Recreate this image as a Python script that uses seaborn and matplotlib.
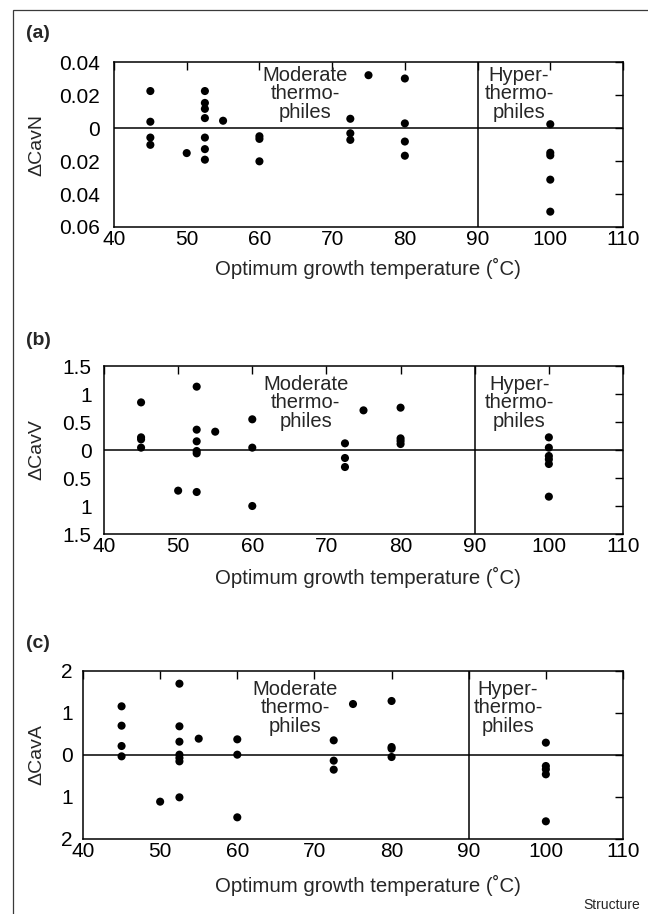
import matplotlib
matplotlib.use("Agg")
import matplotlib.pyplot as plt
from matplotlib.patches import Rectangle
import seaborn as sns
import pandas as pd

# ---------------- data ----------------
temp_a = [45, 45, 45, 45, 50, 52.5, 52.5, 52.5, 52.5, 52.5, 52.5, 52.5, 55,
          60, 60, 60, 72.5, 72.5, 72.5, 75, 80, 80, 80, 80,
          100, 100, 100, 100, 100]
cavn = [0.0224, 0.0038, -0.0058, -0.0102, -0.0152, 0.0224, 0.0152, 0.0116, 0.006,
        -0.0058, -0.0128, -0.0192, 0.0044, -0.005, -0.0066, -0.0202,
        0.0056, -0.0032, -0.0072, 0.032, 0.0300, 0.0028, -0.0082, -0.0168,
        0.0023, -0.0150, -0.0166, -0.0313, -0.0507]

temp_b = [45, 45, 45, 45, 50, 52.5, 52.5, 52.5, 52.5, 52.5, 52.5, 55,
          60, 60, 60, 72.5, 72.5, 72.5, 75, 80, 80, 80, 80,
          100, 100, 100, 100, 100, 100]
cavv = [0.85, 0.226, 0.19, 0.042, -0.726, 1.131, 0.363, 0.155, -0.018, -0.06, -0.75, 0.327,
        0.548, 0.042, -1.0, 0.119, -0.143, -0.304, 0.708, 0.756, 0.208, 0.161, 0.107,
        0.226, 0.042, -0.107, -0.167, -0.25, -0.833]

temp_c = [45, 45, 45, 45, 50, 52.5, 52.5, 52.5, 52.5, 52.5, 52.5, 52.5, 55,
          60, 60, 60, 72.5, 72.5, 72.5, 75, 80, 80, 80, 80,
          100, 100, 100, 100, 100]
cava = [1.159, 0.698, 0.214, -0.032, -1.111, 1.698, 0.683, 0.317, 0.008, -0.07, -0.151, -1.008, 0.389,
        0.373, 0.008, -1.484, 0.349, -0.135, -0.349, 1.214, 1.286, 0.19, 0.15, -0.048,
        0.294, -0.262, -0.341, -0.46, -1.579]

x_ticks = [40, 50, 60, 70, 80, 90, 100, 110]
yticks_a = [0.04, 0.02, 0, -0.02, -0.04, -0.06]
ylabels_a = ["0.04", "0.02", "0", "0.02", "0.04", "0.06"]
yticks_b = [1.5, 1, 0.5, 0, -0.5, -1, -1.5]
ylabels_b = ["1.5", "1", "0.5", "0", "0.5", "1", "1.5"]
yticks_c = [2, 1, 0, -1, -2]
ylabels_c = ["2", "1", "0", "1", "2"]

panel_letters = ["(a)", "(b)", "(c)"]
y_names = ["\u0394CavN", "\u0394CavV", "\u0394CavA"]
x_name = "Optimum growth temperature (\u02daC)"
group_names = ["Moderate\nthermo-\nphiles", "Hyper-\nthermo-\nphiles"]

# ---------------- style ----------------
sns.set_style("white")
plt.rcParams["font.family"] = ["Liberation Sans", "DejaVu Sans"]
plt.rcParams["axes.linewidth"] = 1.1

W, H = 648, 914
fig = plt.figure(figsize=(W / 100, H / 100), dpi=100)

# figure frame
fig.patches.append(Rectangle((13 / W, -0.05), 1.2, 1 - 10 / H + 0.05,
                             transform=fig.transFigure, fill=False,
                             edgecolor="#3a3a3a", linewidth=0.9))

panels = [
    dict(x=temp_a, y=cavn, ticks=yticks_a, labels=ylabels_a, lim=(-0.06, 0.04),
         box=(114, 62, 623, 227), pad=10.0, tx=(66.3, 95.7), ty=0.0207,
         lab_y=33, xl_y=268),
    dict(x=temp_b, y=cavv, ticks=yticks_b, labels=ylabels_b, lim=(-1.5, 1.5),
         box=(104, 366, 623, 534), pad=9.0, tx=(67.2, 96.0), ty=0.84,
         lab_y=341, xl_y=577),
    dict(x=temp_c, y=cava, ticks=yticks_c, labels=ylabels_c, lim=(-2, 2),
         box=(83, 671, 623, 839), pad=7.5, tx=(67.5, 95.1), ty=1.12,
         lab_y=644, xl_y=885),
]

for i, p in enumerate(panels):
    x0, y0, x1, y1 = p["box"]
    ax = fig.add_axes([x0 / W, 1 - y1 / H, (x1 - x0) / W, (y1 - y0) / H])
    df = pd.DataFrame({"t": p["x"], "v": p["y"]})
    sns.scatterplot(data=df, x="t", y="v", ax=ax, color="black", s=34,
                    edgecolor="none", zorder=3)
    ax.axhline(0, color="black", lw=1.1, zorder=2)
    ax.axvline(90, color="black", lw=1.1, zorder=2)
    ax.set_xlim(40, 110)
    ax.set_ylim(*p["lim"])
    ax.set_xticks(x_ticks)
    ax.set_xticklabels([str(t) for t in x_ticks])
    ax.set_yticks(p["ticks"])
    ax.set_yticklabels(p["labels"])
    ax.set_xlabel("")
    ax.set_ylabel("")
    for s in ax.spines.values():
        s.set_visible(True)
        s.set_color("black")
    ax.tick_params(axis="both", direction="in", length=6, width=1.0,
                   top=True, right=True, colors="black", labelsize=15)
    ax.tick_params(axis="x", pad=2)
    ax.tick_params(axis="y", pad=p["pad"])
    ax.text(p["tx"][0], p["ty"], group_names[0], ha="center", va="center",
            fontsize=14.5, linespacing=0.98)
    ax.text(p["tx"][1], p["ty"], group_names[1], ha="center", va="center",
            fontsize=14.5, linespacing=0.98)
    fig.text(26 / W, 1 - p["lab_y"] / H, panel_letters[i], ha="left", va="center",
             fontsize=14, fontweight="bold")
    fig.text(37 / W, 1 - ((y0 + y1) / 2) / H, y_names[i], rotation=90,
             ha="center", va="center", fontsize=14)
    fig.text(368 / W, 1 - p["xl_y"] / H, x_name, ha="center", va="center",
             fontsize=14.7)

fig.text(640 / W, 1 - 905 / H, "Structure", ha="right", va="center", fontsize=10)

fig.savefig("out.png", dpi=100)
